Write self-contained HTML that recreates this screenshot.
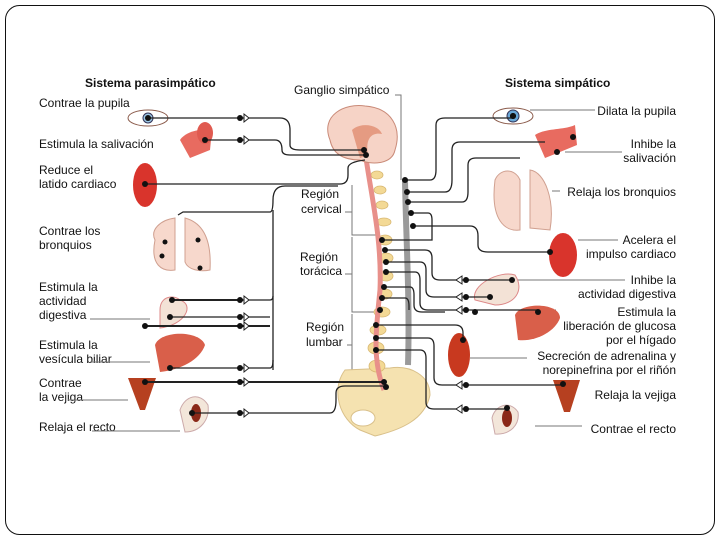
<!DOCTYPE html>
<html><head><meta charset="utf-8"><style>
body{margin:0;background:#fff;}
svg{display:block;font-family:"Liberation Sans",sans-serif;}
.l{font-size:12px;fill:#111;}
.b{font-size:12px;font-weight:bold;fill:#111;}
.r{font-size:12px;fill:#111;text-anchor:end;}
.w{fill:none;stroke:#222;stroke-width:1.3;}
.g{fill:none;stroke:#777;stroke-width:1;}
</style></head><body>
<svg width="720" height="540" viewBox="0 0 720 540">
<rect x="5.5" y="5.5" width="709" height="529" rx="14" fill="#fff" stroke="#111" stroke-width="1"/>

<text class="b" x="85" y="87">Sistema parasimpático</text>
<text class="l" x="294" y="94">Ganglio simpático</text>
<text class="b" x="505" y="87">Sistema simpático</text>

<text class="l" x="39" y="107">Contrae la pupila</text>
<text class="l" x="39" y="148">Estimula la salivación</text>
<text class="l" x="39" y="174">Reduce el</text><text class="l" x="39" y="188">latido cardiaco</text>
<text class="l" x="39" y="235">Contrae los</text><text class="l" x="39" y="249">bronquios</text>
<text class="l" x="39" y="291">Estimula la</text><text class="l" x="39" y="305">actividad</text><text class="l" x="39" y="319">digestiva</text>
<text class="l" x="39" y="349">Estimula la</text><text class="l" x="39" y="363">vesícula biliar</text>
<text class="l" x="39" y="387">Contrae</text><text class="l" x="39" y="401">la vejiga</text>
<text class="l" x="39" y="431">Relaja el recto</text>

<text class="l" x="301" y="198">Región</text><text class="l" x="301" y="213">cervical</text>
<text class="l" x="300" y="261">Región</text><text class="l" x="300" y="275">torácica</text>
<text class="l" x="306" y="331">Región</text><text class="l" x="306" y="346">lumbar</text>

<text class="r" x="676" y="115">Dilata la pupila</text>
<text class="r" x="676" y="148">Inhibe la</text><text class="r" x="676" y="162">salivación</text>
<text class="r" x="676" y="196">Relaja los bronquios</text>
<text class="r" x="676" y="244">Acelera el</text><text class="r" x="676" y="258">impulso cardiaco</text>
<text class="r" x="676" y="284">Inhibe la</text><text class="r" x="676" y="298">actividad digestiva</text>
<text class="r" x="676" y="316">Estimula la</text><text class="r" x="676" y="330">liberación de glucosa</text><text class="r" x="676" y="344">por el hígado</text>
<text class="r" x="676" y="360">Secreción de adrenalina y</text><text class="r" x="676" y="374">norepinefrina por el riñón</text>
<text class="r" x="676" y="399">Relaja la vejiga</text>
<text class="r" x="676" y="433">Contrae el recto</text>

<g class="g">
<path d="M395 95H401V180"/>
<path d="M352 185V235H378"/><path d="M345 212H352"/>
<path d="M352 237V312H385"/><path d="M345 274H352"/>
<path d="M352 314V373H375"/><path d="M347 345H352"/>
<path d="M90 319H150"/><path d="M90 362H150"/><path d="M68 400H128"/><path d="M92 431H180"/>
<path d="M530 110H595"/><path d="M565 152H622"/><path d="M552 191H560"/>
<path d="M578 240H618"/><path d="M512 280H625"/><path d="M537 310H556"/>
<path d="M470 358H527"/><path d="M535 426H582"/>
</g>

<path d="M345 370 C330 390 340 420 360 430 L375 436 C400 430 425 420 430 395 C430 375 410 365 390 368Z" fill="#f5e2b0" stroke="#d9c08a"/>
<ellipse cx="363" cy="418" rx="12" ry="8" fill="#fff" stroke="#d9c08a"/>
<g fill="#f3d995" stroke="#d8b873" stroke-width="0.8">
<ellipse cx="377" cy="175" rx="6" ry="4"/><ellipse cx="380" cy="190" rx="6" ry="4"/><ellipse cx="382" cy="205" rx="6" ry="4"/>
<ellipse cx="384" cy="222" rx="7" ry="4"/><ellipse cx="385" cy="240" rx="7" ry="5"/><ellipse cx="386" cy="258" rx="7" ry="5"/>
<ellipse cx="386" cy="276" rx="7" ry="5"/><ellipse cx="385" cy="294" rx="7" ry="5"/><ellipse cx="382" cy="312" rx="8" ry="5"/>
<ellipse cx="378" cy="330" rx="8" ry="5"/><ellipse cx="376" cy="348" rx="8" ry="6"/><ellipse cx="377" cy="366" rx="8" ry="6"/>
</g>
<path d="M366 158 C372 200 382 240 380 290 C376 330 372 360 384 390" fill="none" stroke="#e8908a" stroke-width="5"/>
<path d="M405 180 C406 240 410 300 408 365" fill="none" stroke="#9a9a9a" stroke-width="6"/>
<path d="M330 140 C320 115 345 103 365 106 C392 108 402 128 395 150 C392 165 370 165 360 160 C345 160 333 155 330 140Z" fill="#f6d3c6" stroke="#c98a78"/>
<path d="M352 130 C360 122 378 124 382 134 C372 132 365 138 368 155 L360 158Z" fill="#e59b82"/>

<ellipse cx="148" cy="118" rx="20" ry="8" fill="#fff" stroke="#8a5a4a"/><circle cx="148" cy="118" r="5" fill="#9cc7e6" stroke="#335"/><circle cx="148" cy="118" r="2.5" fill="#000"/>
<path d="M180 140 C185 132 200 128 212 130 L210 150 L190 158Z" fill="#e86b60"/><ellipse cx="205" cy="133" rx="8" ry="11" fill="#e05a50"/>
<ellipse cx="145" cy="185" rx="12" ry="22" fill="#d9342c"/>
<path d="M155 240 C150 230 160 220 175 218 L175 270 C162 272 150 265 155 240Z M185 218 C200 222 212 235 210 270 C200 272 188 270 185 262Z" fill="#f7d8cc" stroke="#d0a090"/>
<path d="M160 310 C160 295 175 295 180 300 C195 305 185 325 160 328Z" fill="#f3e2d6" stroke="#d88"/>
<path d="M155 345 C160 330 200 330 205 345 C200 360 180 370 160 372Z" fill="#d95f4a"/>
<path d="M128 378 L156 378 L145 410 L140 410Z" fill="#b64020"/>
<path d="M180 410 C185 395 200 392 208 405 C210 420 200 432 185 432Z" fill="#f3e6da" stroke="#caa"/><ellipse cx="196" cy="413" rx="5" ry="9" fill="#8a2818"/>

<ellipse cx="513" cy="116" rx="20" ry="8" fill="#fff" stroke="#8a5a4a"/><circle cx="513" cy="116" r="6" fill="#6aa8d8" stroke="#335"/><circle cx="513" cy="116" r="3" fill="#000"/>
<path d="M535 135 C545 128 565 130 575 125 L577 145 L560 152 L545 158Z" fill="#e86b60"/>
<path d="M495 180 C500 168 515 168 520 180 L520 230 C505 232 490 220 495 180Z M530 170 C545 172 555 200 550 230 L530 228Z" fill="#f7d8cc" stroke="#d0a090"/>
<ellipse cx="563" cy="255" rx="14" ry="22" fill="#d9342c"/>
<path d="M475 300 C470 285 500 270 515 275 C525 290 515 305 495 305Z" fill="#f3e2d6" stroke="#d88"/>
<path d="M515 315 C520 302 560 302 560 318 C555 332 535 342 518 340Z" fill="#d95f4a"/>
<ellipse cx="459" cy="355" rx="11" ry="22" fill="#c8391f"/>
<path d="M553 380 L580 380 L570 412 L564 412Z" fill="#b64020"/>
<path d="M492 418 C495 405 510 400 518 412 C520 425 510 435 495 434Z" fill="#f3e6da" stroke="#caa"/><ellipse cx="507" cy="418" rx="5" ry="9" fill="#8a2818"/>

<g class="w">
<path d="M148 118H280 Q290 118 290 130V145 Q290 150 300 150H365"/>
<path d="M205 140H275 Q282 140 282 150 Q282 155 290 155H367"/>
<path d="M145 184H340 Q348 184 348 175V168 Q348 162 365 160"/>
<path d="M178 215 L183 212H270 Q273 212 273 200 Q273 186 285 186H338"/>
<path d="M273 210V370"/>
<path d="M172 300H270 Q273 300 273 296"/>
<path d="M170 317H270"/>
<path d="M170 368H270 Q273 368 273 360"/>
<path d="M145 382H384" stroke-width="2"/>
<path d="M192 413H330 Q336 413 336 400V393 Q336 386 345 386H386"/>
</g>
<path d="M145 326H270 M172 300H243" stroke="#222" stroke-width="2"/>
<g fill="#111">
<circle cx="240" cy="118" r="3"/><circle cx="240" cy="140" r="3"/><circle cx="240" cy="300" r="3"/><circle cx="240" cy="317" r="3"/><circle cx="240" cy="326" r="3"/><circle cx="240" cy="368" r="3"/><circle cx="240" cy="382" r="3"/><circle cx="240" cy="413" r="3"/>
<circle cx="148" cy="118" r="3"/><circle cx="205" cy="140" r="3"/><circle cx="145" cy="184" r="3"/><circle cx="172" cy="300" r="3"/><circle cx="170" cy="317" r="3"/><circle cx="145" cy="326" r="3"/><circle cx="170" cy="368" r="3"/><circle cx="145" cy="382" r="3"/><circle cx="192" cy="413" r="3"/>
<circle cx="364" cy="150" r="3"/><circle cx="366" cy="155" r="3"/><circle cx="384" cy="382" r="3"/><circle cx="386" cy="387" r="3"/>
<circle cx="165" cy="242" r="2.5"/><circle cx="198" cy="240" r="2.5"/><circle cx="162" cy="256" r="2.5"/><circle cx="200" cy="268" r="2.5"/>
</g>
<g fill="#fff" stroke="#222">
<path d="M244 114L249 118L244 122Z"/><path d="M244 136L249 140L244 144Z"/><path d="M244 296L249 300L244 304Z"/><path d="M244 313L249 317L244 321Z"/><path d="M244 322L249 326L244 330Z"/><path d="M244 364L249 368L244 372Z"/><path d="M244 378L249 382L244 386Z"/><path d="M244 409L249 413L244 417Z"/>
</g>

<g class="w">
<path d="M405 180H430 Q436 180 436 170V125 Q436 118 445 118H513"/>
<path d="M407 192H445 Q452 192 452 180V150 Q452 142 460 142H545"/>
<path d="M408 202H462 Q468 202 468 192V165 Q468 158 476 158H520"/>
<path d="M411 213H428 Q432 213 432 220V240 H382"/>
<path d="M413 226H470 Q478 226 478 236V245 Q478 252 488 252H550"/>
<path d="M385 250H425 Q432 250 432 258V273 Q432 280 440 280H512"/>
<path d="M386 262H420 Q426 262 426 270V290 Q426 297 434 297H490"/>
<path d="M386 272H415 Q420 272 420 280V303 Q420 310 428 310H538"/>
<path d="M384 287H410 Q414 287 414 295V305 Q414 312 422 312H445"/>
<path d="M382 298H405 Q409 298 409 306V310"/>
<path d="M376 325H455 Q463 325 463 333V340"/>
<path d="M376 338H428 Q434 338 434 346V378 Q434 385 442 385H563"/>
<path d="M376 350H420 Q426 350 426 358V402 Q426 409 434 409H507"/>
</g>
<g fill="#111">
<circle cx="405" cy="180" r="3"/><circle cx="407" cy="192" r="3"/><circle cx="408" cy="202" r="3"/><circle cx="411" cy="213" r="3"/><circle cx="413" cy="226" r="3"/>
<circle cx="382" cy="240" r="3"/><circle cx="385" cy="250" r="3"/><circle cx="386" cy="262" r="3"/><circle cx="386" cy="272" r="3"/><circle cx="384" cy="287" r="3"/><circle cx="382" cy="298" r="3"/><circle cx="380" cy="310" r="3"/><circle cx="376" cy="325" r="3"/><circle cx="376" cy="338" r="3"/><circle cx="376" cy="350" r="3"/>
<circle cx="513" cy="116" r="3"/><circle cx="573" cy="137" r="3"/><circle cx="557" cy="152" r="3"/><circle cx="512" cy="280" r="3"/><circle cx="490" cy="297" r="3"/><circle cx="475" cy="312" r="3"/><circle cx="538" cy="312" r="3"/><circle cx="463" cy="340" r="3"/><circle cx="563" cy="384" r="3"/><circle cx="507" cy="408" r="3"/><circle cx="550" cy="252" r="3"/>
<circle cx="466" cy="385" r="3"/><circle cx="466" cy="409" r="3"/><circle cx="466" cy="280" r="3"/><circle cx="466" cy="297" r="3"/><circle cx="466" cy="310" r="3"/>
</g>
<g fill="#fff" stroke="#222">
<path d="M462 276L456 280L462 284Z"/><path d="M462 293L456 297L462 301Z"/><path d="M462 306L456 310L462 314Z"/><path d="M462 381L456 385L462 389Z"/><path d="M462 405L456 409L462 413Z"/>
</g>
</svg>
</body></html>
